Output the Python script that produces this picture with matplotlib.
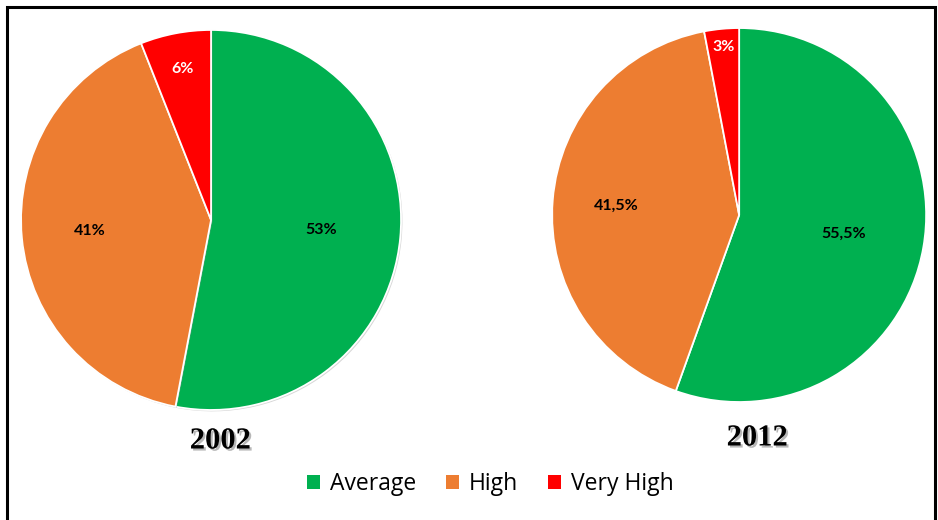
import numpy as np
import matplotlib.pyplot as plt
import matplotlib.patheffects as pe
from matplotlib.patches import Patch, Rectangle

categories = ['Average', 'High', 'Very High']
years = ['2002', '2012']
share_2002 = [53, 41, 6]
share_2012 = [55.5, 41.5, 3]

colors = ['#00B050', '#ED7D31', '#FF0000']
text_colors = ['black', 'black', 'white']
label_dist = [[0.58, 0.64, 0.81], [0.57, 0.66, 0.90]]


def fmt(v):
    if float(v).is_integer():
        return '%d%%' % v
    return ('%.1f%%' % v).replace('.', ',')


fig = plt.figure(figsize=(9.38, 5.2), dpi=100)

# black frame round the whole picture
fig.patches.append(Rectangle((7 / 938, -0.02), 928 / 938, 1 - 7 / 520 + 0.02,
                             transform=fig.transFigure, fill=False,
                             edgecolor='black', linewidth=2.2))

boxes = [[0.225 - 0.2026, 0.577 - 0.3654, 0.4052, 0.7308],
         [0.788 - 0.1994, 0.5865 - 0.3596, 0.3988, 0.7192]]
title_pos = [(220 / 938, 1 - 441 / 520), (757 / 938, 1 - 438 / 520)]

for i, vals in enumerate([share_2002, share_2012]):
    ax = fig.add_axes(boxes[i])
    wedges, _ = ax.pie(vals, colors=colors, startangle=90, counterclock=False,
                       wedgeprops=dict(edgecolor='white', linewidth=1.3))
    if i == 0:
        for w in wedges:
            w.set_path_effects([pe.SimplePatchShadow(offset=(1, -1), shadow_rgbFace='#999999', alpha=0.4),
                                pe.Normal()])
    for j, w in enumerate(wedges):
        ang = np.deg2rad((w.theta1 + w.theta2) / 2)
        d = label_dist[i][j]
        ax.text(d * np.cos(ang), d * np.sin(ang), fmt(vals[j]), ha='center', va='center',
                fontsize=11.5, fontweight='bold', color=text_colors[j], family='Lato')
    ax.set_xlim(-1, 1)
    ax.set_ylim(-1, 1)
    ax.set_aspect('equal')
    fig.text(title_pos[i][0], title_pos[i][1], years[i], ha='center', va='center',
             fontsize=22, fontweight='bold', family='Liberation Serif',
             path_effects=[pe.withSimplePatchShadow(offset=(1.5, -1.5), shadow_rgbFace='#888888', alpha=0.6)])

handles = [Patch(facecolor=c, label=l) for c, l in zip(colors, categories)]
fig.legend(handles=handles, loc='center', bbox_to_anchor=(490 / 938, 1 - 484 / 520), ncol=3,
           frameon=False, prop={'family': 'Open Sans', 'size': 16.5}, handlelength=0.6,
           handleheight=0.6, handletextpad=0.4, columnspacing=1.3)

fig.savefig('out.png', dpi=100)
